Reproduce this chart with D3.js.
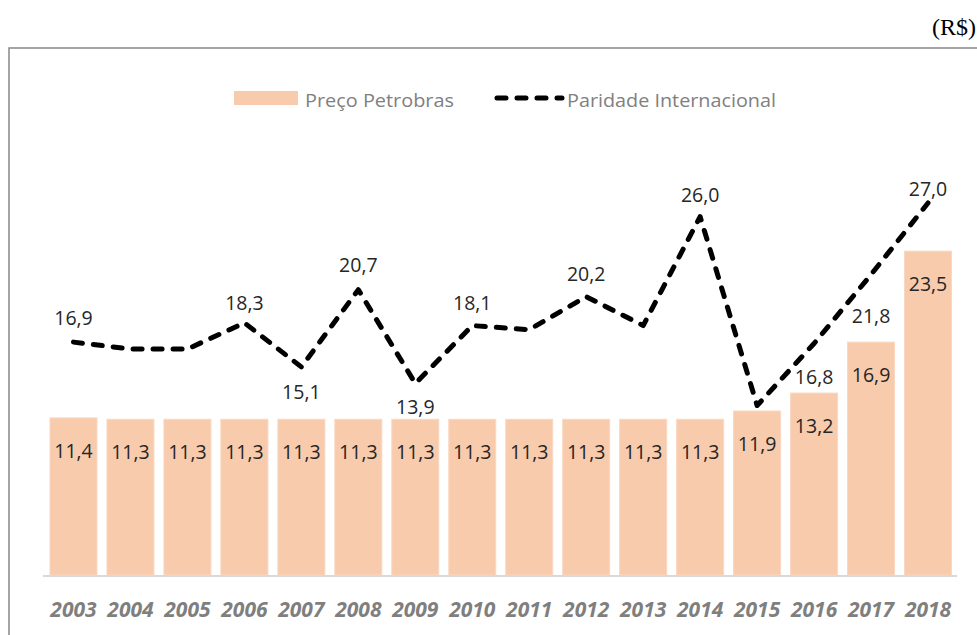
<!DOCTYPE html>
<html>
<head>
<meta charset="utf-8">
<script src="https://cdn.jsdelivr.net/npm/d3@7"></script>
<style>
  body { margin: 0; background: #fff; }
  svg { display: block; }
</style>
</head>
<body>
<div id="chart"></div>
<script>
var years = ["2003", "2004", "2005", "2006", "2007", "2008", "2009", "2010",
             "2011", "2012", "2013", "2014", "2015", "2016", "2017", "2018"];
var precoPetrobras = [11.4, 11.3, 11.3, 11.3, 11.3, 11.3, 11.3, 11.3,
                      11.3, 11.3, 11.3, 11.3, 11.9, 13.2, 16.9, 23.5];
var paridade = [16.9, 16.4, 16.4, 18.3, 15.1, 20.7, 13.9, 18.1,
                17.8, 20.2, 18.1, 26.0, 12.3, 16.8, 21.8, 27.0];
// years whose line value is printed on the chart
var paridadeLabeled = ["2003", "2006", "2007", "2008", "2009", "2010", "2012",
                       "2014", "2016", "2017", "2018"];

// vertical offset of each line label from its point
var labelOffset = {
  "2003": -24, "2006": -20, "2007": 25, "2008": -25, "2009": 24,
  "2010": -22, "2012": -22, "2014": -22, "2016": 34, "2017": 42, "2018": -14
};

var svgWidth = 977;
var svgHeight = 635;

var svg = d3.select("#chart")
  .append("svg")
  .attr("width", svgWidth)
  .attr("height", svgHeight);

var fmt = function(v) { return d3.format(".1f")(v).replace(".", ","); };

// unit label
svg.append("text")
  .attr("x", 976)
  .attr("y", 35)
  .attr("text-anchor", "end")
  .attr("font-family", "Liberation Serif, serif")
  .attr("font-size", "24px")
  .attr("fill", "#000")
  .text("(R$)");

// frame
svg.append("rect")
  .attr("x", 9)
  .attr("y", 48)
  .attr("width", 990)
  .attr("height", 620)
  .attr("fill", "none")
  .attr("stroke", "#888")
  .attr("stroke-width", 1.5);

var x = d3.scaleBand()
  .domain(years)
  .range([45, 956.5])
  .paddingInner(0.175)
  .paddingOuter(0.0875);

var y = d3.scaleLinear()
  .domain([0, 30])
  .range([575, 575 - 30 * 13.78]);

// bars
svg.selectAll("rect.bar")
  .data(years)
  .enter()
  .append("rect")
  .attr("class", "bar")
  .attr("x", d => x(d))
  .attr("y", (d, i) => y(precoPetrobras[i]))
  .attr("width", x.bandwidth())
  .attr("height", (d, i) => y(0) - y(precoPetrobras[i]))
  .attr("fill", "#f8cbad")
  .attr("stroke", "#fad7c0")
  .attr("stroke-width", 1);

// baseline
svg.append("line")
  .attr("x1", 43)
  .attr("x2", 957)
  .attr("y1", y(0) + 1)
  .attr("y2", y(0) + 1)
  .attr("stroke", "#d9d9d9")
  .attr("stroke-width", 2);

// bar labels
svg.selectAll("text.barlabel")
  .data(years)
  .enter()
  .append("text")
  .attr("class", "barlabel")
  .attr("x", d => x(d) + x.bandwidth() / 2)
  .attr("y", (d, i) => y(precoPetrobras[i]) + 40)
  .attr("text-anchor", "middle")
  .attr("font-family", "Open Sans, sans-serif")
  .attr("font-size", "19.5px")
  .attr("fill", "#262626")
  .text((d, i) => fmt(precoPetrobras[i]));

// x axis labels
var xAxis = d3.axisBottom(x).tickSize(0).tickPadding(0);
var axisG = svg.append("g")
  .attr("transform", `translate(0, ${y(0)})`)
  .call(xAxis);
axisG.select(".domain").remove();
axisG.selectAll("text")
  .attr("dy", null)
  .attr("y", 42)
  .attr("font-family", "Open Sans, sans-serif")
  .attr("font-size", "21px")
  .attr("font-weight", "bold")
  .attr("font-style", "italic")
  .attr("fill", "#7f7f7f");

// line
var line = d3.line()
  .x((d, i) => x(years[i]) + x.bandwidth() / 2)
  .y(d => y(d));

svg.append("path")
  .datum(paridade)
  .attr("d", line)
  .attr("fill", "none")
  .attr("stroke", "#000")
  .attr("stroke-width", 5)
  .attr("stroke-linecap", "round")
  .attr("stroke-linejoin", "round")
  .attr("stroke-dasharray", "9,11");

// line labels
var lineLabelData = years
  .map((yr, i) => ({ year: yr, value: paridade[i] }))
  .filter(d => paridadeLabeled.indexOf(d.year) >= 0);

svg.selectAll("text.linelabel")
  .data(lineLabelData)
  .enter()
  .append("text")
  .attr("class", "linelabel")
  .attr("x", d => x(d.year) + x.bandwidth() / 2)
  .attr("y", d => y(d.value) + labelOffset[d.year])
  .attr("dy", "0.35em")
  .attr("text-anchor", "middle")
  .attr("font-family", "Open Sans, sans-serif")
  .attr("font-size", "19.5px")
  .attr("fill", "#262626")
  .text(d => fmt(d.value));

// legend
var legend = svg.append("g");
legend.append("rect")
  .attr("x", 234)
  .attr("y", 91)
  .attr("width", 64)
  .attr("height", 14)
  .attr("fill", "#f8cbad");
legend.append("text")
  .attr("x", 305)
  .attr("y", 107)
  .attr("font-family", "Open Sans, sans-serif")
  .attr("font-size", "19px")
  .attr("fill", "#808080")
  .attr("textLength", 149)
  .attr("lengthAdjust", "spacingAndGlyphs")
  .text("Preço Petrobras");
legend.append("line")
  .attr("x1", 497)
  .attr("x2", 562)
  .attr("y1", 98)
  .attr("y2", 98)
  .attr("stroke", "#000")
  .attr("stroke-width", 5)
  .attr("stroke-linecap", "round")
  .attr("stroke-dasharray", "9,11");
legend.append("text")
  .attr("x", 567)
  .attr("y", 107)
  .attr("font-family", "Open Sans, sans-serif")
  .attr("font-size", "19px")
  .attr("fill", "#808080")
  .attr("textLength", 209)
  .attr("lengthAdjust", "spacingAndGlyphs")
  .text("Paridade Internacional");
</script>
</body>
</html>
